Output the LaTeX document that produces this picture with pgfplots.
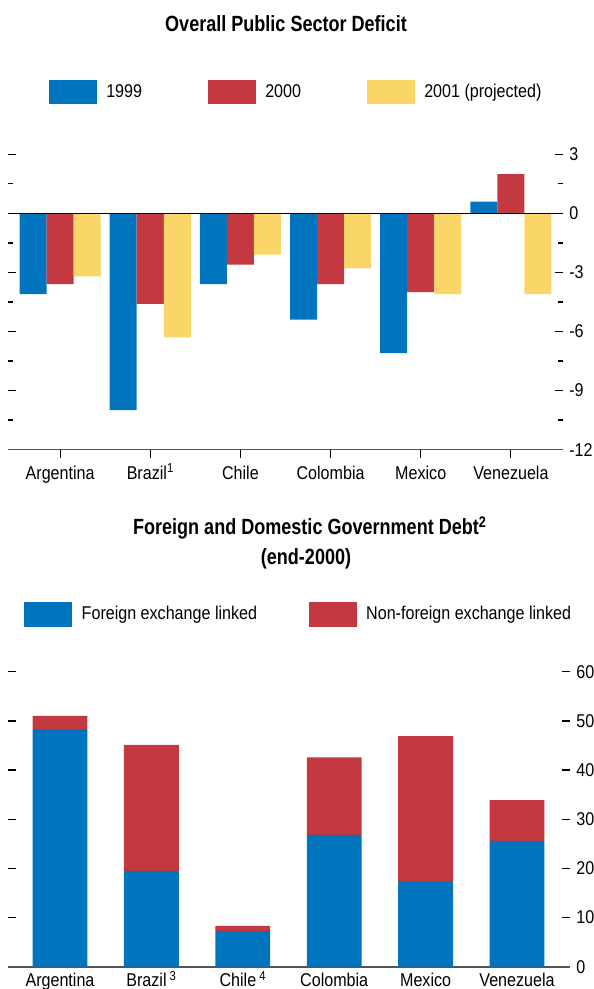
\documentclass[border=0pt]{standalone}
\usepackage{fontspec}
\setmainfont{Liberation Sans}[FakeStretch=0.87]
\newfontfamily\titlefont{Liberation Sans}[FakeStretch=0.82]
\usepackage{pgfplots}
\pgfplotsset{compat=1.18}
\definecolor{imfBlue}{RGB}{0,117,190}
\definecolor{imfRed}{RGB}{196,56,64}
\definecolor{imfYellow}{RGB}{250,214,104}
\definecolor{axGray}{RGB}{85,85,85}

\pgfplotsset{
  imfpanel/.style={
    scale only axis, separate axis lines,
    axis x line*=bottom,
    x axis line style={axGray, line width=1.6pt, -},
    y axis line style={draw=none},
    tick align=inside,
    ytick pos=both, yticklabel pos=right,
    major tick length=8pt, minor tick length=5pt,
    major tick style={black, line width=1.3pt},
    minor tick style={black, line width=1.3pt},
    xtick={0,...,5},
    xticklabel style={anchor=north, text height=13.3pt, text depth=4pt, inner sep=0pt},
    legend cell align=left,
  },
  sqlegendA/.style={legend image code/.code={\fill[##1] (0pt,-12pt) rectangle (48pt,12pt);}},
  sqlegendB/.style={legend image code/.code={\fill[##1] (0pt,-12.5pt) rectangle (48pt,12.5pt);}},
}

\begin{document}
\fontsize{18.5}{22}\selectfont
\begin{tikzpicture}
\useasboundingbox (0pt,0pt) rectangle (594pt,989pt);

% top panel: overall public sector deficit
\node[anchor=base, font=\titlefont\bfseries\fontsize{22}{26}\selectfont] at (286pt,957.3pt) {Overall Public Sector Deficit};
\begin{axis}[imfpanel,
  at={(8pt,539.4pt)}, anchor=south west,
  width=555pt, height=324.8pt,
  xmin=-0.578, xmax=5.578, ymin=-12, ymax=4.5,
  ybar,
  xticklabels={Argentina,Brazil\textsuperscript{1},Chile,Colombia,Mexico,Venezuela},
  xticklabel style={yshift=-8pt},
  xtick style={line width=1pt},
  ytick={-12,-9,-6,-3,0,3}, yticklabels={-12,-9,-6,-3,0,3},
  minor ytick={-10.5,-7.5,-4.5,-1.5,1.5},
  legend columns=3,
  legend style={at={(axis description cs:0.074,1.101)}, anchor=west, draw=none, fill=none,
    inner sep=0pt, nodes={inner sep=0pt},
    /tikz/every odd column/.append style={column sep=9pt}},
]
\addplot[fill=imfBlue, draw=none, bar width=0.3, bar shift=-0.3, sqlegendA]
  coordinates {(0,-4.1) (1,-10.0) (2,-3.6) (3,-5.4) (4,-7.1) (5,0.6)};
\addlegendentry{\makebox[102pt][l]{1999}}
\addplot[fill=imfRed, draw=none, bar width=0.3, bar shift=0, sqlegendA]
  coordinates {(0,-3.6) (1,-4.6) (2,-2.6) (3,-3.6) (4,-4.0) (5,2.0)};
\addlegendentry{\makebox[102pt][l]{2000}}
\addplot[fill=imfYellow, draw=none, bar width=0.3, bar shift=0.3, sqlegendA]
  coordinates {(0,-3.2) (1,-6.3) (2,-2.1) (3,-2.8) (4,-4.1) (5,-4.1)};
\addlegendentry{2001 (projected)}
\addplot[black, line width=1.2pt, forget plot, sharp plot] coordinates {(-0.578,0) (5.578,0)};
\end{axis}

% bottom panel: government debt
\node[anchor=base, font=\titlefont\bfseries\fontsize{22}{26}\selectfont] at (306pt,454pt) {Foreign and Domestic Government Debt\rlap{\textsuperscript{2}}};
\node[anchor=base, font=\titlefont\bfseries\fontsize{22}{26}\selectfont] at (306pt,424pt) {(end-2000)};
\begin{axis}[imfpanel,
  at={(8pt,22.3pt)}, anchor=south west,
  width=562pt, height=295pt,
  xmin=-0.569, xmax=5.58, ymin=0, ymax=60,
  ybar stacked, bar width=0.6,
  xticklabels={Argentina,Brazil\,\textsuperscript{3},Chile\,\textsuperscript{4},Colombia,Mexico,Venezuela},
  xticklabel style={yshift=-6.5pt},
  xtick style={draw=none},
  ytick={0,10,...,60}, yticklabels={0,10,20,30,40,50,60},
  legend columns=2,
  legend style={at={(axis description cs:0.0285,1.1956)}, anchor=west, draw=none, fill=none,
    inner sep=0pt, nodes={inner sep=0pt},
    /tikz/every odd column/.append style={column sep=9.5pt}},
]
\addplot[fill=imfBlue, draw=none, sqlegendB]
  coordinates {(0,48.3) (1,19.5) (2,7.25) (3,26.8) (4,17.4) (5,25.6)};
\addlegendentry{\makebox[227pt][l]{Foreign exchange linked}}
\addplot[fill=imfRed, draw=none, sqlegendB]
  coordinates {(0,2.7) (1,25.6) (2,1.05) (3,15.8) (4,29.5) (5,8.3)};
\addlegendentry{Non-foreign exchange linked}
\end{axis}
\end{tikzpicture}
\end{document}
